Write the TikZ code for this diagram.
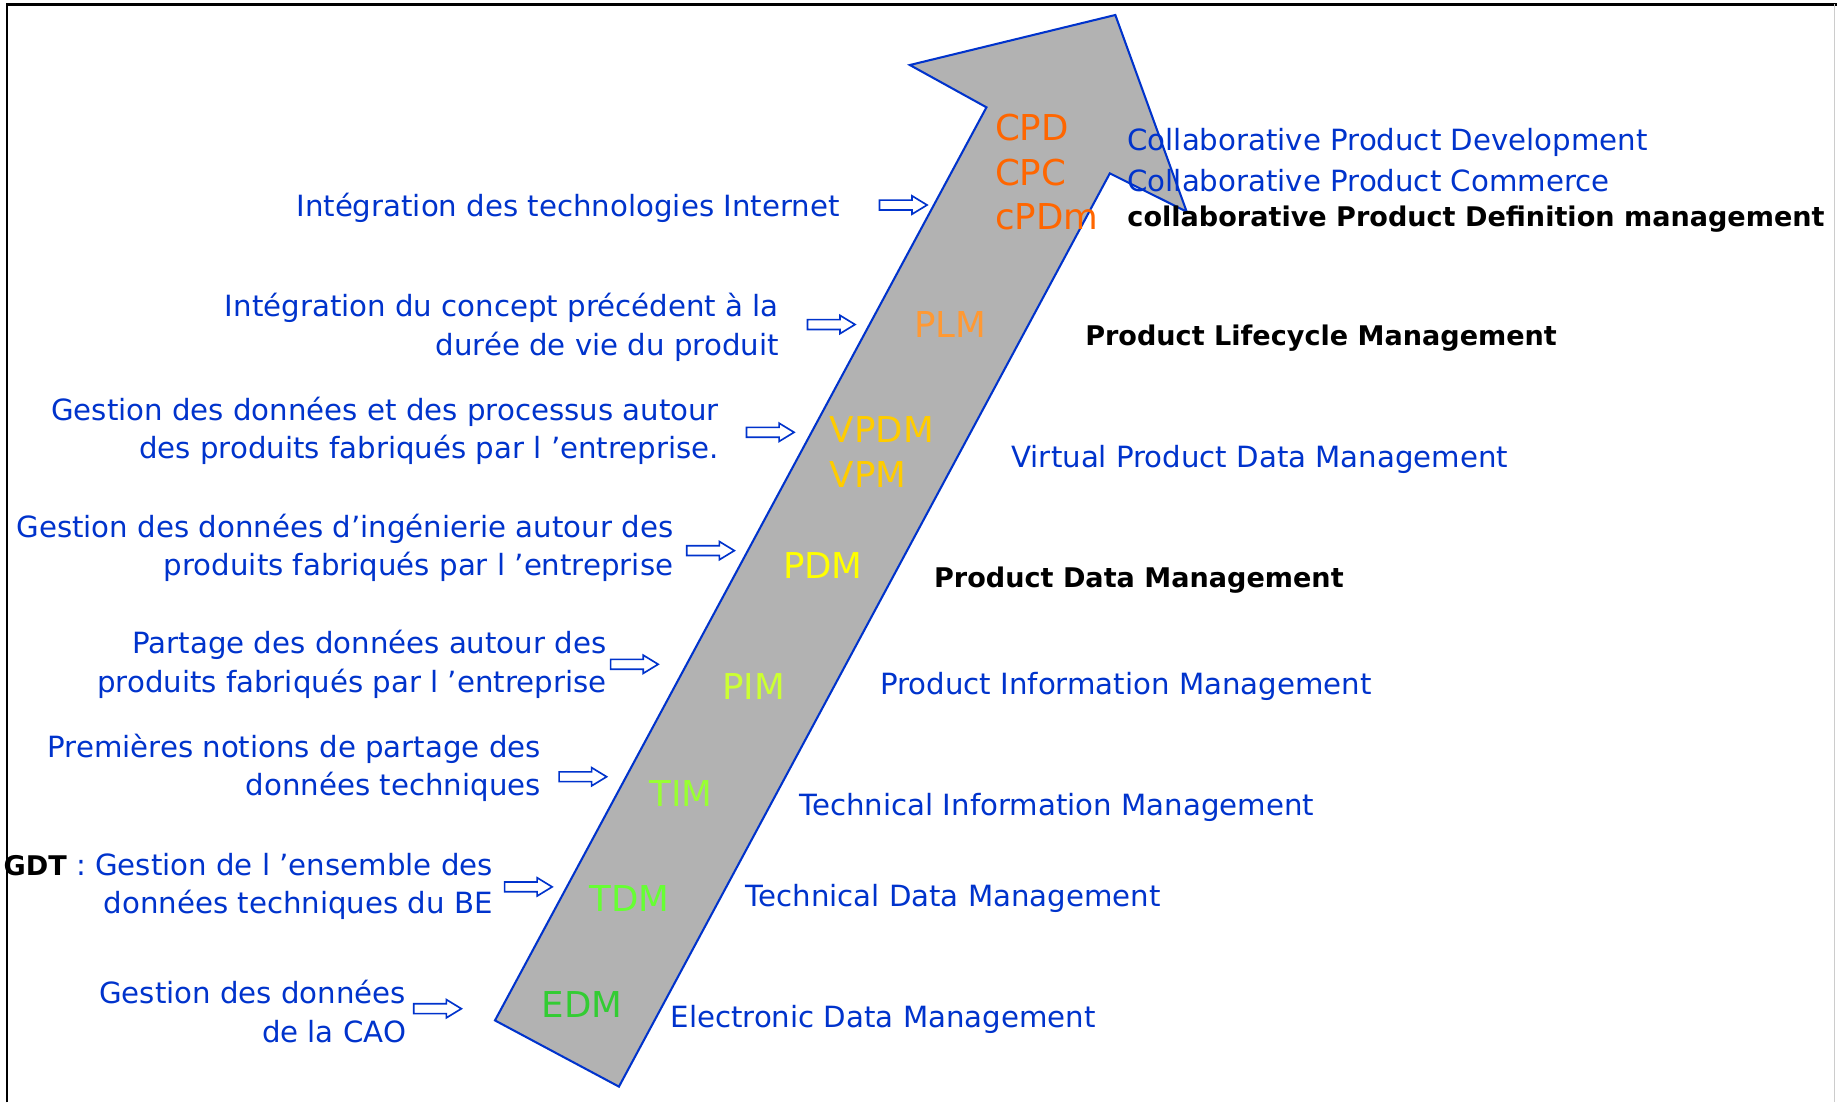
\documentclass[tikz,border=0pt]{standalone}
\usepackage{fontspec}
\setmainfont{DejaVu Sans}
\definecolor{txtblue}{RGB}{0,51,204}
\definecolor{arrowgray}{RGB}{178,178,178}
\definecolor{cOrange}{RGB}{255,102,0}
\definecolor{cLight}{RGB}{255,153,51}
\definecolor{cGold}{RGB}{255,204,0}
\definecolor{cYellow}{RGB}{255,255,0}
\definecolor{cLime}{RGB}{204,255,51}
\definecolor{cLeaf}{RGB}{153,255,51}
\definecolor{cGrass}{RGB}{102,255,51}
\definecolor{cGreen}{RGB}{51,204,51}
\tikzset{hollow arrow/.pic={
  \draw[txtblue,fill=white,line width=0.8pt] (-20.3,-4.2) -- (7.5,-4.2) -- (7.5,-7.8) -- (20.3,0)
    -- (7.5,7.8) -- (7.5,4.2) -- (-20.3,4.2) -- cycle;}}
\begin{document}
\begin{tikzpicture}[x=0.2mm,y=-0.2mm,
  left node/.style={anchor=east,align=right,inner sep=0pt,text=txtblue,font=\fontsize{14.2}{18.6}\selectfont},
  right node/.style={anchor=west,inner sep=0pt,text=txtblue,font=\fontsize{14.2}{18.6}\selectfont},
  bold node/.style={right node,text=black,font=\fontsize{13.15}{18.6}\selectfont\bfseries},
  acro node/.style={anchor=west,inner sep=0pt,font=\fontsize{17.3}{21}\selectfont}]
\useasboundingbox (0,0) rectangle (1568,941);
\draw[line width=1.4pt] (6,941) -- (6,3.5) -- (1568,3.5);
\draw[black!20,line width=0.6pt] (1566,3.5) -- (1566,941);

% big arrow
\draw[txtblue,fill=arrowgray,line width=1pt] (422.5,871) -- (842,91.6) -- (776.6,55.5) -- (952,12.8)
  -- (1012.9,180.7) -- (947.3,148) -- (528.3,927.5) -- cycle;

% left side
\node[left node] (t1) at (717,177) {Intégration des technologies Internet};
\node[left node] (t2) at (665,279.5) {Intégration du concept précédent à la\\durée de vie du produit};
\node[left node] (t3) at (614,368) {Gestion des données et des processus autour\\des produits fabriqués par l 'entreprise.};
\node[left node] (t4) at (575,467.5) {Gestion des données d'ingénierie autour des\\produits fabriqués par l 'entreprise};
\node[left node] (t5) at (518,567) {Partage des données autour des\\produits fabriqués par l 'entreprise};
\node[left node] (t6) at (462,655.5) {Premières notions de partage des\\données techniques};
\node[left node] (t7) at (421,756.5) {{\color{black}\fontsize{13.15}{18.6}\selectfont\bfseries GDT} : Gestion de l 'ensemble des\\données techniques du BE};
\node[left node] (t8) at (347,863.5) {Gestion des données\\de la CAO};

\pic (a1) at (771,175) {hollow arrow};
\pic (a2) at (709.5,277) {hollow arrow};
\pic (a3) at (657.5,369) {hollow arrow};
\pic (a4) at (606.5,470) {hollow arrow};
\pic (a5) at (541.5,567) {hollow arrow};
\pic (a6) at (497.5,663) {hollow arrow};
\pic (a7) at (451,757) {hollow arrow};
\pic (a8) at (373.5,861) {hollow arrow};

% acronyms
\node[acro node,text=cOrange] (cpd) at (849,109) {CPD};
\node[acro node,text=cOrange] (cpc) at (849,147) {CPC};
\node[acro node,text=cOrange] (cpdm) at (849,185) {cPDm};
\node[acro node,text=cLight] (plm) at (780,277) {PLM};
\node[acro node,text=cGold] (vpdm) at (708,367) {VPDM};
\node[acro node,text=cGold] (vpm) at (708,405) {VPM};
\node[acro node,text=cYellow] (pdm) at (668,483) {PDM};
\node[acro node,text=cLime] (pim) at (616,586) {PIM};
\node[acro node,text=cLeaf] (tim) at (554,677) {TIM};
\node[acro node,text=cGrass] (tdm) at (503,767) {TDM};
\node[acro node,text=cGreen] (edm) at (462,857) {EDM};

% right side
\node[right node] (r1) at (962,122) {Collaborative Product Development};
\node[right node] (r2) at (962,154) {Collaborative Product Commerce};
\node[bold node] (r3) at (962,187) {collaborative Product Definition management};
\node[bold node] (r4) at (926,289) {Product Lifecycle Management};
\node[right node] (r5) at (863,392) {Virtual Product Data Management};
\node[bold node] (r6) at (797,495) {Product Data Management};
\node[right node] (r7) at (751,586) {Product Information Management};
\node[right node] (r8) at (682,689) {Technical Information Management};
\node[right node] (r9) at (636,767) {Technical Data Management};
\node[right node] (r10) at (572,870) {Electronic Data Management};
\end{tikzpicture}
\end{document}
